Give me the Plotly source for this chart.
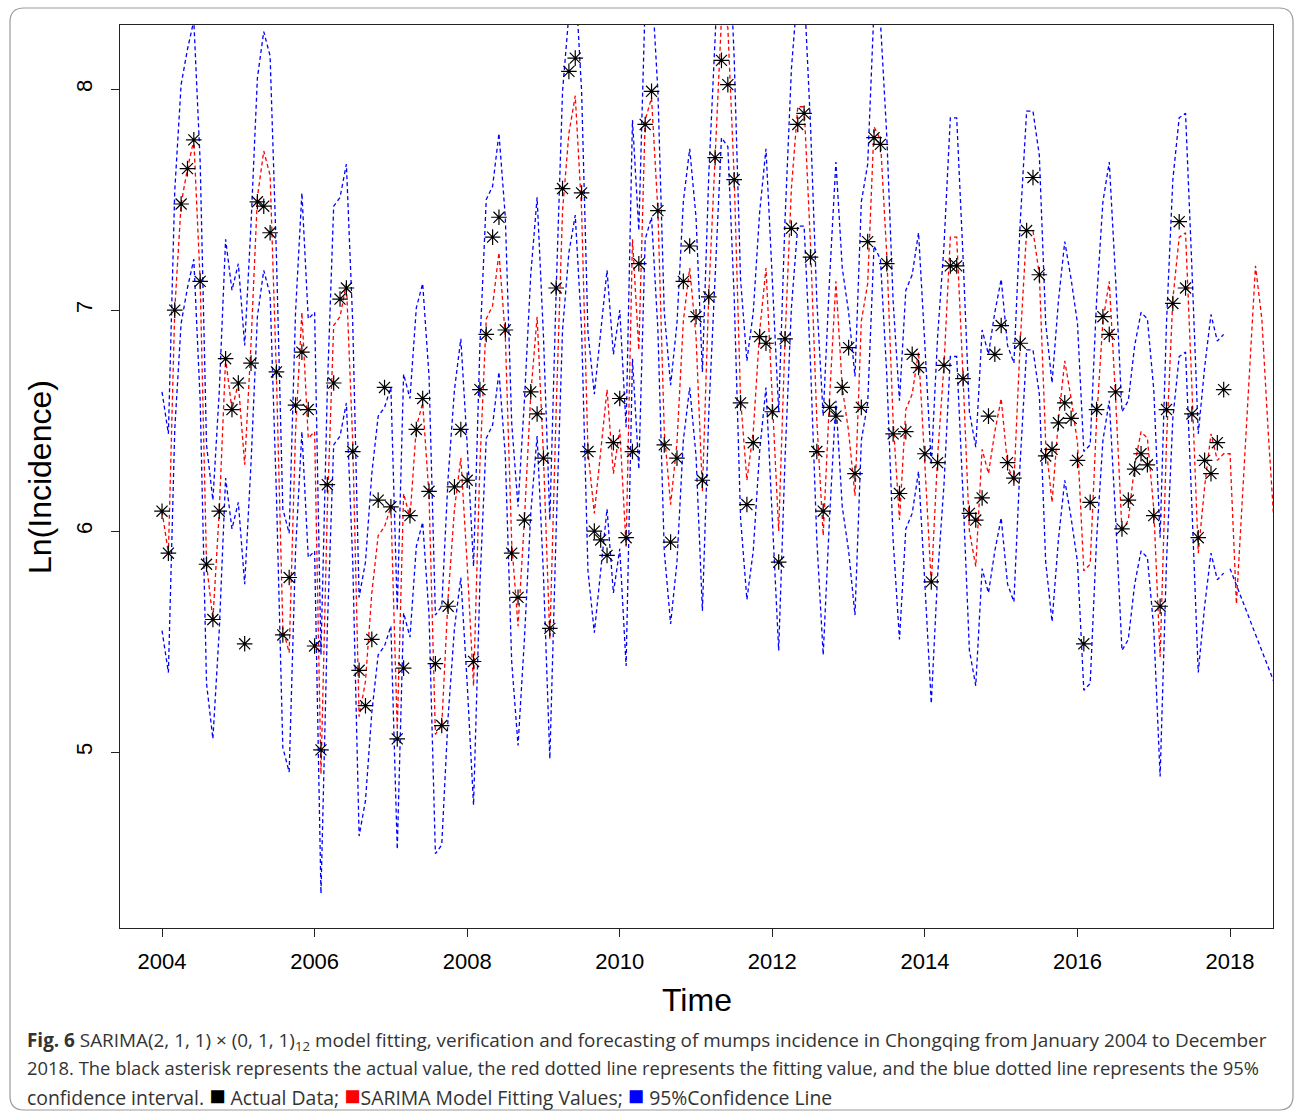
import plotly.graph_objects as go

# ---------------- data ----------------
start_year = 2004
# observed Ln(incidence), monthly Jan 2004 - Dec 2017
actual = [
    6.09, 5.90, 7.00, 7.48, 7.64, 7.77, 7.13, 5.85, 5.60, 6.09, 6.78, 6.55,   # 2004
    6.67, 5.49, 6.76, 7.49, 7.47, 7.35, 6.72, 5.53, 5.79, 6.57, 6.81, 6.55,   # 2005
    5.48, 5.01, 6.21, 6.67, 7.05, 7.10, 6.36, 5.37, 5.21, 5.51, 6.14, 6.65,   # 2006
    6.11, 5.06, 5.38, 6.07, 6.46, 6.60, 6.18, 5.40, 5.12, 5.66, 6.20, 6.46,   # 2007
    6.23, 5.41, 6.64, 6.89, 7.33, 7.42, 6.91, 5.90, 5.70, 6.05, 6.63, 6.53,   # 2008
    6.33, 5.56, 7.10, 7.55, 8.08, 8.14, 7.53, 6.36, 6.00, 5.96, 5.89, 6.40,   # 2009
    6.60, 5.97, 6.36, 7.21, 7.84, 7.99, 7.45, 6.39, 5.95, 6.33, 7.13, 7.29,   # 2010
    6.97, 6.23, 7.06, 7.69, 8.13, 8.02, 7.59, 6.58, 6.12, 6.40, 6.88, 6.85,   # 2011
    6.54, 5.86, 6.87, 7.37, 7.84, 7.89, 7.24, 6.36, 6.09, 6.56, 6.52, 6.65,   # 2012
    6.83, 6.26, 6.56, 7.31, 7.78, 7.75, 7.21, 6.44, 6.17, 6.45, 6.80, 6.74,   # 2013
    6.35, 5.77, 6.31, 6.75, 7.20, 7.20, 6.69, 6.08, 6.05, 6.15, 6.52, 6.80,   # 2014
    6.93, 6.31, 6.24, 6.85, 7.36, 7.60, 7.16, 6.34, 6.37, 6.49, 6.58, 6.51,   # 2015
    6.32, 5.49, 6.13, 6.55, 6.97, 6.89, 6.63, 6.01, 6.14, 6.28, 6.35, 6.30,   # 2016
    6.07, 5.66, 6.55, 7.03, 7.40, 7.10, 6.53, 5.97, 6.32, 6.26, 6.40, 6.64,   # 2017
]
# SARIMA fitted values (Jan 2004 - Dec 2017) followed by forecasts (2018)
fitted = [
    6.09, 5.90, 7.00, 7.48, 7.64, 7.77, 7.13, 5.85, 5.60, 6.09, 6.78, 6.55,
    6.67, 6.30, 6.85, 7.51, 7.72, 7.61, 6.70, 5.56, 5.45, 6.45, 6.99, 6.42,
    6.45, 4.90, 6.10, 6.93, 6.97, 7.12, 6.40, 5.16, 5.32, 5.72, 5.98, 6.02,
    6.11, 5.10, 6.17, 6.06, 6.47, 6.58, 6.16, 5.08, 5.12, 5.70, 6.10, 6.33,
    5.85, 5.30, 6.30, 6.96, 7.02, 7.26, 6.88, 5.95, 5.57, 6.05, 6.62, 6.97,
    6.34, 5.51, 6.55, 7.45, 7.80, 7.97, 7.45, 6.36, 6.08, 6.35, 6.64, 6.26,
    6.46, 5.93, 7.32, 6.82, 7.86, 7.96, 7.45, 6.45, 6.12, 6.40, 6.95, 7.19,
    6.88, 6.18, 7.07, 7.69, 8.32, 8.28, 7.60, 6.60, 6.23, 6.45, 6.90, 7.19,
    6.60, 6.00, 6.87, 7.55, 7.92, 7.92, 7.30, 6.50, 5.98, 6.60, 7.13, 6.65,
    6.45, 6.16, 6.95, 7.12, 7.83, 7.77, 7.25, 6.50, 6.05, 6.55, 6.62, 6.81,
    6.30, 5.76, 6.34, 6.75, 7.33, 7.33, 6.70, 6.00, 5.84, 6.37, 6.26, 6.45,
    6.60, 6.30, 6.22, 6.86, 7.36, 7.36, 7.16, 6.40, 6.13, 6.50, 6.77, 6.60,
    6.40, 5.82, 5.85, 6.50, 6.95, 7.13, 6.60, 6.00, 6.05, 6.30, 6.45, 6.42,
    6.10, 5.43, 6.40, 7.05, 7.33, 7.35, 6.65, 5.90, 6.20, 6.44, 6.32, 6.35,
    6.35, 5.67, 6.18, 6.69, 7.20, 6.96, 6.45, 6.00,                            # 2018 forecast
]
# 95% confidence lines (Jan 2004 - Dec 2017)
upper = [
    6.63, 6.44, 7.54, 8.02, 8.18, 8.31, 7.67, 6.39, 6.14, 6.63, 7.32, 7.09,
    7.21, 6.84, 7.39, 8.05, 8.26, 8.15, 7.24, 6.10, 5.99, 6.99, 7.53, 6.96,
    6.99, 5.44, 6.64, 7.47, 7.51, 7.66, 6.94, 5.70, 5.86, 6.26, 6.52, 6.56,
    6.65, 5.64, 6.71, 6.60, 7.01, 7.12, 6.70, 5.62, 5.66, 6.24, 6.64, 6.87,
    6.39, 5.84, 6.84, 7.50, 7.56, 7.80, 7.42, 6.49, 6.11, 6.59, 7.16, 7.51,
    6.88, 6.05, 7.09, 7.99, 8.34, 8.51, 7.99, 6.90, 6.62, 6.89, 7.18, 6.80,
    7.00, 6.47, 7.86, 7.36, 8.40, 8.50, 7.99, 6.99, 6.66, 6.94, 7.49, 7.73,
    7.42, 6.72, 7.61, 8.23, 8.86, 8.82, 8.14, 7.14, 6.77, 6.99, 7.44, 7.73,
    7.14, 6.54, 7.41, 8.09, 8.46, 8.46, 7.84, 7.04, 6.52, 7.14, 7.67, 7.19,
    6.99, 6.70, 7.49, 7.66, 8.37, 8.31, 7.79, 7.04, 6.59, 7.09, 7.16, 7.35,
    6.84, 6.30, 6.88, 7.29, 7.87, 7.87, 7.24, 6.54, 6.38, 6.91, 6.80, 6.99,
    7.14, 6.84, 6.76, 7.40, 7.90, 7.90, 7.70, 6.94, 6.67, 7.04, 7.31, 7.14,
    6.94, 6.36, 6.39, 7.04, 7.49, 7.67, 7.14, 6.54, 6.59, 6.84, 6.99, 6.96,
    6.64, 5.97, 6.94, 7.59, 7.87, 7.89, 7.19, 6.44, 6.74, 6.98, 6.86, 6.89,
]
lower = [
    5.55, 5.36, 6.46, 6.94, 7.10, 7.23, 6.59, 5.31, 5.06, 5.55, 6.24, 6.01,
    6.13, 5.76, 6.31, 6.97, 7.18, 7.07, 6.16, 5.02, 4.91, 5.91, 6.45, 5.88,
    5.91, 4.36, 5.56, 6.39, 6.43, 6.58, 5.86, 4.62, 4.78, 5.18, 5.44, 5.48,
    5.57, 4.56, 5.63, 5.52, 5.93, 6.04, 5.62, 4.54, 4.58, 5.16, 5.56, 5.79,
    5.31, 4.76, 5.76, 6.42, 6.48, 6.72, 6.34, 5.41, 5.03, 5.51, 6.08, 6.43,
    5.80, 4.97, 6.01, 6.91, 7.26, 7.43, 6.91, 5.82, 5.54, 5.81, 6.10, 5.72,
    5.92, 5.39, 6.78, 6.28, 7.32, 7.42, 6.91, 5.91, 5.58, 5.86, 6.41, 6.65,
    6.34, 5.64, 6.53, 7.15, 7.78, 7.74, 7.06, 6.06, 5.69, 5.91, 6.36, 6.65,
    6.06, 5.46, 6.33, 7.01, 7.38, 7.38, 6.76, 5.96, 5.44, 6.06, 6.59, 6.11,
    5.91, 5.62, 6.41, 6.58, 7.29, 7.23, 6.71, 5.96, 5.51, 6.01, 6.08, 6.27,
    5.76, 5.22, 5.80, 6.21, 6.79, 6.79, 6.16, 5.46, 5.30, 5.83, 5.72, 5.91,
    6.06, 5.76, 5.68, 6.32, 6.82, 6.82, 6.62, 5.86, 5.59, 5.96, 6.23, 6.06,
    5.86, 5.28, 5.31, 5.96, 6.41, 6.59, 6.06, 5.46, 5.51, 5.76, 5.91, 5.88,
    5.56, 4.89, 5.86, 6.51, 6.79, 6.81, 6.11, 5.36, 5.66, 5.90, 5.78, 5.81,
]
# visible lower confidence line of the forecast (Jan 2018 and Aug 2018)
forecast_lower_months = [168, 175]
forecast_lower = [5.83, 5.31]

x_ticks = [2004, 2006, 2008, 2010, 2012, 2014, 2016, 2018]
y_ticks = [5, 6, 7, 8]


def t(i):
    return start_year + i / 12.0


t_actual = [t(i) for i in range(len(actual))]
t_fitted = [t(i) for i in range(len(fitted))]
t_ci = [t(i) for i in range(len(upper))]
t_fc = [t(i) for i in forecast_lower_months]

# ---------------- figure ----------------
W, H = 1295, 1113
L, R, T, B = 120, 1273, 25, 928   # plot-area pixel box


def px(xp):
    return (xp - L) / (R - L)


def py(yp):
    return (B - yp) / (B - T)


dash = "4px,3px"
fig = go.Figure()
fig.add_trace(go.Scatter(x=t_ci, y=upper, mode="lines",
                         line=dict(color="#0000FF", width=1.3, dash=dash)))
fig.add_trace(go.Scatter(x=t_ci, y=lower, mode="lines",
                         line=dict(color="#0000FF", width=1.3, dash=dash)))
fig.add_trace(go.Scatter(x=t_fc, y=forecast_lower, mode="lines",
                         line=dict(color="#0000FF", width=1.3, dash=dash)))
fig.add_trace(go.Scatter(x=t_fitted, y=fitted, mode="lines",
                         line=dict(color="#FF0000", width=1.3, dash=dash)))
fig.add_trace(go.Scatter(x=t_actual, y=actual, mode="markers",
                         marker=dict(symbol="asterisk-open", size=13, color="black",
                                     line=dict(color="black", width=1.2))))

axis_font = dict(family="Liberation Sans, Arial, sans-serif", size=22, color="black")
fig.update_layout(
    width=W, height=H,
    margin=dict(l=L, r=W - R, t=T, b=H - B),
    paper_bgcolor="white", plot_bgcolor="white",
    showlegend=False, hovermode=False,
    xaxis=dict(range=[2003.449, 2018.563], tickvals=x_ticks,
               ticktext=[str(v) for v in x_ticks],
               showgrid=False, zeroline=False, showline=True, mirror=True,
               linecolor="#222", linewidth=1, ticks="outside", ticklen=8,
               tickcolor="#222", tickfont=axis_font, ticklabelstandoff=6),
    yaxis=dict(range=[4.204, 8.290], tickvals=y_ticks,
               ticktext=[str(v) for v in y_ticks], tickangle=-90,
               showgrid=False, zeroline=False, showline=True, mirror=True,
               linecolor="#222", linewidth=1, ticks="outside", ticklen=8,
               tickcolor="#222", tickfont=axis_font, ticklabelstandoff=10),
)

# axis titles
fig.add_annotation(text="Time", xref="paper", yref="paper", x=px(697), y=py(1000),
                   showarrow=False, xanchor="center", yanchor="middle",
                   font=dict(family="Liberation Sans, Arial, sans-serif", size=32, color="black"))
fig.add_annotation(text="Ln(Incidence)", xref="paper", yref="paper", x=px(40), y=py(477),
                   showarrow=False, xanchor="center", yanchor="middle", textangle=-90,
                   font=dict(family="Liberation Sans, Arial, sans-serif", size=32, color="black"))

# caption
sq = "<span style='color:{};font-size:27px'>■</span>"
cap_lines = [
    "<b>Fig. 6</b> SARIMA(2, 1, 1) × (0, 1, 1)<sub>12</sub> model fitting, verification and "
    "forecasting of mumps incidence in Chongqing from January 2004 to December",
    "2018. The black asterisk represents the actual value, the red dotted line represents "
    "the fitting value, and the blue dotted line represents the 95%",
    "confidence interval. " + sq.format("#000000") + " Actual Data; "
    + sq.format("#FF0000") + "SARIMA Model Fitting Values; "
    + sq.format("#0000FF") + " 95%Confidence Line",
]
cap_sizes = [18.9, 18.4, 19.4]
for yy, line, fs in zip([1041, 1067, 1094], cap_lines, cap_sizes):
    fig.add_annotation(text=line, xref="paper", yref="paper", x=px(25), y=py(yy),
                       showarrow=False, xanchor="left", yanchor="middle", align="left",
                       font=dict(family="Open Sans, Noto Sans, sans-serif", size=fs,
                                 color="#333333"))

# outer rounded frame
x0, x1, y0, y1, r = 10, 1293, 8, 1110, 14
rx, ry = r / (R - L), r / (B - T)
path = (f"M {px(x0)+rx},{py(y0)} L {px(x1)-rx},{py(y0)} Q {px(x1)},{py(y0)} {px(x1)},{py(y0)-ry} "
        f"L {px(x1)},{py(y1)+ry} Q {px(x1)},{py(y1)} {px(x1)-rx},{py(y1)} "
        f"L {px(x0)+rx},{py(y1)} Q {px(x0)},{py(y1)} {px(x0)},{py(y1)+ry} "
        f"L {px(x0)},{py(y0)-ry} Q {px(x0)},{py(y0)} {px(x0)+rx},{py(y0)} Z")
fig.add_shape(type="path", path=path, xref="paper", yref="paper",
              line=dict(color="#9a9a9a", width=1.2), layer="below")

fig.write_html("out.html", config={"displayModeBar": False},
               post_script="document.body.style.margin='0px';"
                           "document.body.style.overflow='hidden';")
